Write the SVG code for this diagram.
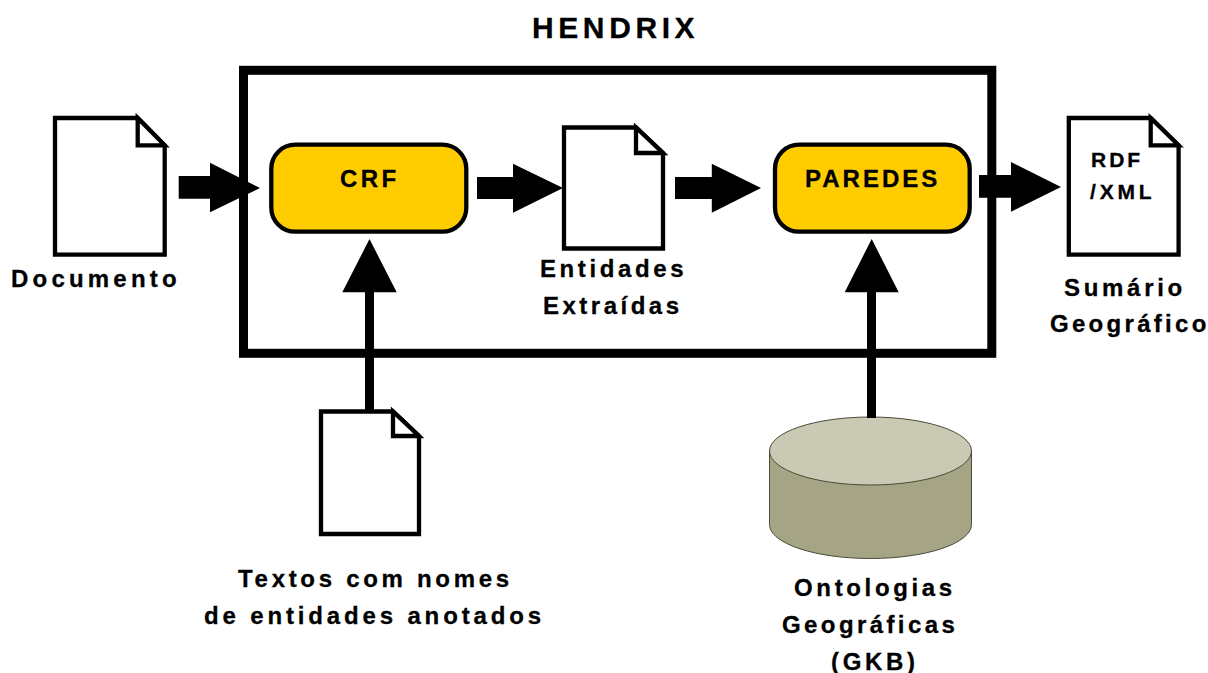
<svg xmlns="http://www.w3.org/2000/svg" width="1208" height="673" viewBox="0 0 1208 673">
<style>
text{font-family:"Liberation Sans",Arial,sans-serif;font-weight:700;fill:#000;stroke:#000;stroke-width:.3px;font-size:24px;letter-spacing:3.65px}
.doc{fill:#fff;stroke:#000;stroke-width:4.3}
.fold{fill:#fff;stroke:#000;stroke-width:4.3}
.box{fill:#ffcc00;stroke:#000;stroke-width:4.3}
.arrow{fill:#000}
</style>
<rect width="1208" height="673" fill="#fff"/>
<g id="hendrix">
<rect x="243.500" y="70.300" width="748.300" height="283" fill="none" stroke="#000" stroke-width="9"/>
<text x="532" y="37.500" style="font-size:30px;letter-spacing:4.600px">HENDRIX</text>
</g>
<g id="documento">
<path class="doc" d="M55,118H137.700L164.700,145.300V254.700H55Z"/>
<path class="fold" d="M137.700,118V145.300H164.700Z"/>
<text x="11" y="287" style="letter-spacing:4.200px">Documento</text>
</g>
<g id="crf">
<rect class="box" x="271.300" y="144.700" width="195" height="87" rx="24" ry="24"/>
<text x="340" y="187" style="letter-spacing:3.400px">CRF</text>
</g>
<g id="entidades">
<path class="doc" d="M564,127.500H636L663,153V248.500H564Z"/>
<path class="fold" d="M636,127.500V153H663Z"/>
<text x="540" y="277" style="letter-spacing:3.600px">Entidades</text>
<text x="543" y="314" style="letter-spacing:3.500px">Extraídas</text>
</g>
<g id="paredes">
<rect class="box" x="775" y="144.700" width="194.700" height="87" rx="24" ry="24"/>
<text x="805" y="187" style="letter-spacing:3px">PAREDES</text>
</g>
<g id="sumario">
<path class="doc" d="M1068.800,118H1150.700L1178.600,145.300V254.700H1068.800Z"/>
<path class="fold" d="M1150.700,118V145.300H1178.600Z"/>
<text x="1091" y="167" style="font-size:21px;letter-spacing:3px">RDF</text>
<text x="1090" y="199" style="font-size:21px;letter-spacing:3.800px">/XML</text>
<text x="1064" y="296" style="letter-spacing:3.700px">Sumário</text>
<text x="1050" y="332" style="letter-spacing:3.300px">Geográfico</text>
</g>
<g id="textos">
<path class="doc" d="M321,411.500H393L419,436V534H321Z"/>
<path class="fold" d="M393,411.500V436H419Z"/>
<text x="238" y="587" style="letter-spacing:3.700px">Textos com nomes</text>
<text x="204" y="624" style="letter-spacing:3.850px">de entidades anotados</text>
</g>
<g id="ontologias">
<path d="M769.500,451V524.500A101,34 0 0 0 971.500,524.500V451Z" fill="#a5a585" stroke="#4a4a38" stroke-width="1"/>
<ellipse cx="870.500" cy="451" rx="101" ry="34" fill="#c9c9b4" stroke="#4a4a38" stroke-width="1"/>
<text x="794" y="596" style="letter-spacing:3.650px">Ontologias</text>
<text x="782" y="633" style="letter-spacing:3.400px">Geográficas</text>
<text x="831" y="670" style="letter-spacing:3.700px">(GKB)</text>
</g>
<g id="connectors">
<path class="arrow" d="M178.700,176H210V162.700L260,188L210,212.300V198.700H178.700Z"/>
<path class="arrow" d="M477,177H513V163.700L563,188L513,212.700V199H477Z"/>
<path class="arrow" d="M675,177H711.800V163.700L761,188L711.800,212.700V199H675Z"/>
<path class="arrow" d="M979,175H1011V162L1061,187L1011,211.700V197.700H979Z"/>
<path class="arrow" d="M365,410V292.300H342.300L369.500,239L396.700,292.300H374V410Z"/>
<path class="arrow" d="M867,418V292.300H844.700L871.700,239L898.700,292.300H876V418Z"/>
</g>
</svg>
